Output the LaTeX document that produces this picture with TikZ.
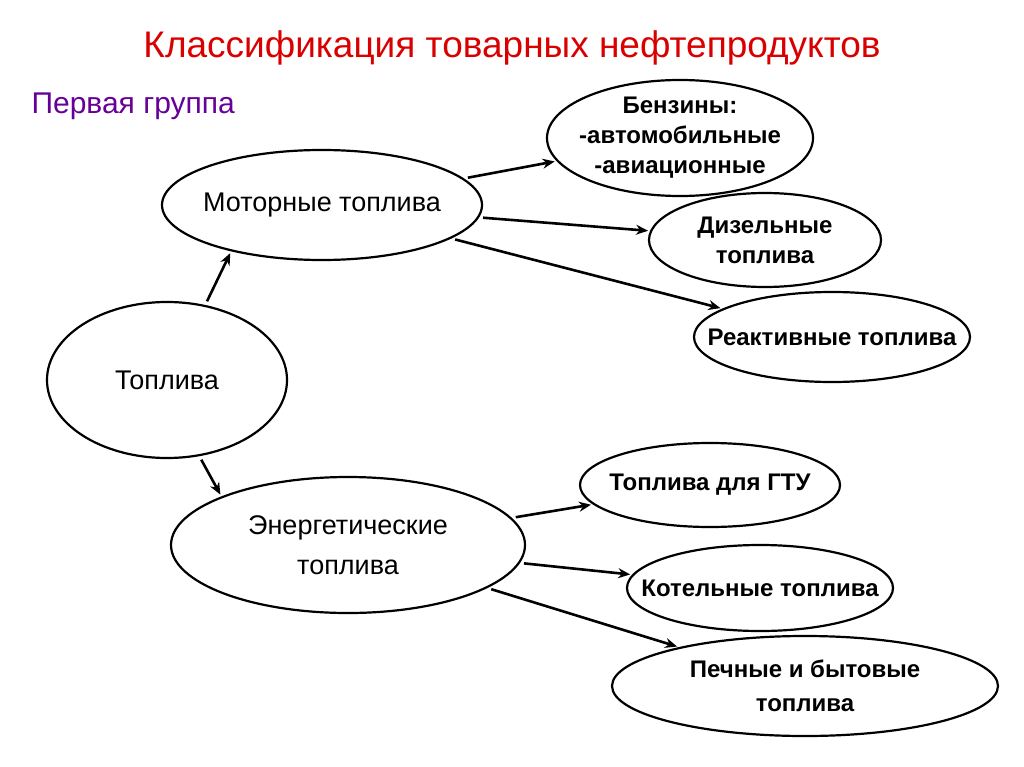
\documentclass[tikz,border=0pt]{standalone}
\usepackage{fontspec}
\setmainfont{Liberation Sans}
\usetikzlibrary{shapes.geometric,arrows.meta}
\begin{document}
\begin{tikzpicture}[x=1pt,y=-1pt,
  ell/.style={draw,ellipse,line width=2.2pt,inner sep=-40pt,align=center,font=\fontsize{27}{36}\selectfont},
  bell/.style={ell,font=\fontsize{24}{30}\selectfont\bfseries},
  arr/.style={line width=2.6pt,-{Stealth[length=12pt,width=10pt]},shorten <=4pt,shorten >=2pt}]
\useasboundingbox (0,0) rectangle (1024,767);
\node[font=\fontsize{37}{40}\selectfont,text=red!85!black] (title) at (512,48) {Классификация товарных нефтепродуктов};
\node[anchor=west,font=\fontsize{30}{34}\selectfont,text=violet!80!blue] (grp) at (28,106) {Первая группа};
\node[ell,minimum width=320pt,minimum height=110pt] (mot) at (322,205) {Моторные топлива};
\node[bell,minimum width=266pt,minimum height=116pt] (ben) at (680,138) {Бензины:\\-автомобильные\\-авиационные};
\node[bell,minimum width=232pt,minimum height=94pt] (diz) at (765,240) {Дизельные\\топлива};
\node[bell,minimum width=276pt,minimum height=90pt] (rea) at (832,337) {Реактивные топлива};
\node[ell,minimum width=240pt,minimum height=156pt] (top) at (167,380) {Топлива};
\node[ell,minimum width=354pt,minimum height=136pt,font=\fontsize{27}{40}\selectfont] (ene) at (348,545) {Энергетические\\топлива};
\node[bell,minimum width=260pt,minimum height=84pt] (gtu) at (710,485) {Топлива для ГТУ};
\node[bell,minimum width=266pt,minimum height=86pt] (kot) at (760,588) {Котельные топлива};
\node[bell,minimum width=386pt,minimum height=100pt,font=\fontsize{24}{34}\selectfont\bfseries] (pec) at (805,686) {Печные и бытовые\\топлива};
\draw[arr] (top.63) -- (mot.207);
\draw[arr] (top.293) -- (ene.159);
\draw[arr] (mot) -- (ben);
\draw[arr] (mot) -- (diz);
\draw[arr] (mot) -- (rea);
\draw[arr] (ene) -- (gtu);
\draw[arr] (ene) -- (kot);
\draw[arr] (ene) -- (pec);
\end{tikzpicture}
\end{document}
